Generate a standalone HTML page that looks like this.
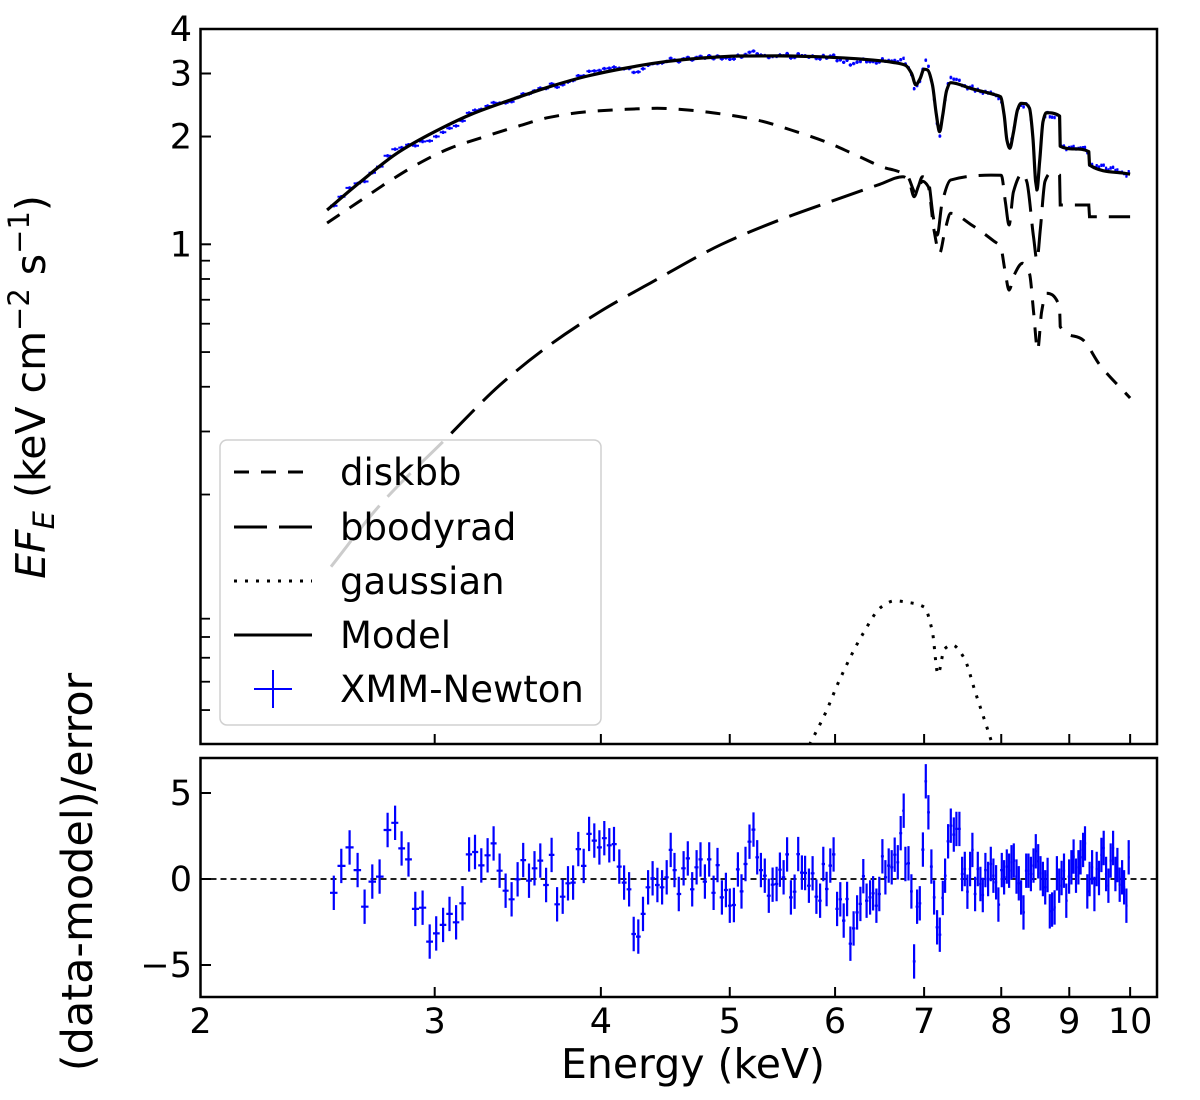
<!DOCTYPE html>
<html><head><meta charset="utf-8"><style>
html,body{margin:0;padding:0;background:#fff;}
svg{display:block;font-family:"DejaVu Sans","Liberation Sans",sans-serif;}
</style></head><body>
<svg id="chart" width="1200" height="1100" viewBox="0 0 1200 1100" xmlns="http://www.w3.org/2000/svg">
<defs>
<clipPath id="clipTop"><rect x="200.5" y="29" width="956.5" height="715"/></clipPath>
<clipPath id="clipBot"><rect x="200.5" y="758" width="956.5" height="239"/></clipPath>
</defs>
<g id="topLayer" clip-path="url(#clipTop)"></g>
<g id="botLayer" clip-path="url(#clipBot)"></g>
<g id="axesLayer"></g>
<text transform="translate(45,387) rotate(-90)" text-anchor="middle" font-size="41"><tspan font-style="italic">EF</tspan><tspan font-style="italic" font-size="29" dy="9">E</tspan><tspan dy="-9"> (keV cm</tspan><tspan font-size="29" dy="-16">−2</tspan><tspan dy="16"> s</tspan><tspan font-size="29" dy="-16">−1</tspan><tspan dy="16">)</tspan></text>
<text transform="translate(92,872) rotate(-90)" text-anchor="middle" font-size="43">(data-model)/error</text>
<text x="693" y="1078" text-anchor="middle" font-size="41">Energy (keV)</text>
</svg>
<script>
// ---- data ----
const modelE=[2.49,2.63,2.81,3.0,3.2,3.42,3.66,3.91,4.18,4.47,4.77,5.1,5.45,5.82,6.22,6.48,6.64,6.78,6.85,6.9,6.95,7.0,7.04,7.1,7.15,7.19,7.23,7.28,7.33,7.6,7.9,7.99,8.04,8.08,8.12,8.17,8.23,8.28,8.34,8.40,8.45,8.49,8.51,8.55,8.6,8.65,8.85,8.86,9.31,9.32,10.0];
const modelV=[1.247,1.48,1.796,2.063,2.312,2.529,2.755,2.952,3.108,3.236,3.314,3.357,3.36,3.342,3.299,3.258,3.22,3.16,3.0,2.79,2.9,3.083,3.07,2.8,2.3,2.063,2.3,2.7,2.828,2.72,2.62,2.584,2.3,1.95,1.854,2.05,2.38,2.476,2.47,2.403,2.0,1.5,1.418,1.7,2.2,2.332,2.283,1.88,1.814,1.665,1.57];
const diskE=[2.49,2.62,2.77,2.92,3.08,3.27,3.47,3.66,3.91,4.18,4.41,4.65,4.93,5.24,5.56,5.9,6.22,6.56,6.64,6.8,6.9,6.98,7.05,7.12,7.19,7.26,7.33,7.6,7.9,7.99,8.05,8.11,8.18,8.3,8.40,8.46,8.52,8.58,8.65,8.85,8.86,9.22,9.49,10.0];
const diskV=[1.147,1.302,1.496,1.684,1.854,1.998,2.14,2.263,2.346,2.383,2.398,2.372,2.312,2.225,2.086,1.935,1.776,1.63,1.613,1.55,1.39,1.5,1.45,1.1,0.944,1.1,1.221,1.132,1.02,0.985,0.85,0.745,0.82,0.885,0.83,0.65,0.507,0.65,0.73,0.669,0.589,0.54,0.46,0.372];
const bbE=[2.507,2.729,3.052,3.36,3.66,3.99,4.36,4.93,5.45,6.02,6.48,6.75,6.82,6.88,6.93,6.98,7.05,7.11,7.16,7.22,7.33,7.86,8.0,8.06,8.11,8.17,8.30,8.36,8.46,8.51,8.56,8.63,8.71,8.85,8.86,9.31,9.32,10];
const bbV=[0.1257,0.187,0.284,0.405,0.523,0.647,0.78,1.0,1.169,1.336,1.47,1.545,1.5,1.358,1.45,1.545,1.5,1.2,1.061,1.3,1.512,1.561,1.56,1.3,1.132,1.4,1.579,1.5,1.05,0.904,1.1,1.5,1.579,1.561,1.288,1.288,1.194,1.194];
const gaussE=[5.74,5.9,6.05,6.3,6.5,6.65,6.8,7.0,7.1,7.17,7.25,7.35,7.5,7.65,7.8,7.88];
const gaussV=[0.040,0.049,0.061,0.082,0.097,0.101,0.100,0.097,0.083,0.063,0.074,0.076,0.070,0.056,0.045,0.040];
const dataE=[2.519,2.552,2.589,2.625,2.657,2.693,2.727,2.765,2.801,2.833,2.867,2.901,2.938,2.974,3.008,3.044,3.078,3.113,3.148,3.184,3.217,3.252,3.288,3.322,3.357,3.392,3.427,3.463,3.497,3.532,3.566,3.602,3.638,3.673,3.708,3.744,3.779,3.812,3.847,3.883,3.919,3.955,3.990,4.024,4.059,4.092,4.130,4.164,4.200,4.234,4.268,4.303,4.341,4.375,4.411,4.447,4.483,4.514,4.544,4.578,4.616,4.650,4.685,4.721,4.753,4.789,4.825,4.862,4.895,4.932,4.967,5.000,5.036,5.071,5.103,5.138,5.174,5.210,5.243,5.277,5.313,5.350,5.385,5.422,5.453,5.488,5.522,5.558,5.594,5.629,5.665,5.697,5.734,5.771,5.809,5.846,5.879,5.913,5.951,5.985,6.021,6.055,6.090,6.126,6.161,6.196,6.233,6.269,6.301,6.337,6.375,6.408,6.445,6.478,6.512,6.546,6.584,6.618,6.653,6.688,6.722,6.757,6.777,6.813,6.848,6.880,6.916,6.948,6.985,7.021,7.052,7.089,7.122,7.159,7.193,7.230,7.259,7.297,7.331,7.369,7.403,7.441,7.476,7.511,7.545,7.580,7.610,7.646,7.682,7.717,7.749,7.784,7.820,7.857,7.892,7.929,7.961,8.008,8.040,8.078,8.110,8.144,8.176,8.214,8.247,8.280,8.315,8.353,8.387,8.421,8.460,8.494,8.528,8.563,8.598,8.632,8.668,8.702,8.737,8.774,8.810,8.845,8.882,8.918,8.954,8.998,9.033,9.068,9.106,9.143,9.179,9.218,9.249,9.286,9.323,9.363,9.400,9.437,9.476,9.514,9.552,9.592,9.630,9.669,9.709,9.749,9.782,9.821,9.862,9.896,9.936,9.976];
const dataR=[-0.80,0.76,1.84,0.52,-1.61,-0.15,0.14,2.85,3.27,1.78,1.14,-1.74,-1.67,-3.64,-3.16,-2.67,-2.03,-2.52,-1.41,1.43,1.57,0.79,1.38,2.07,0.48,-0.68,-1.18,-0.02,1.10,-0.10,0.62,1.07,-0.35,1.40,-1.47,-1.03,-0.25,-0.21,1.74,0.76,2.62,2.23,1.84,2.37,1.96,2.03,0.72,-0.21,-0.60,-3.20,-3.35,-2.03,-0.48,0.04,-0.35,-0.48,0.10,1.69,0.52,-0.87,0.62,1.20,-0.60,0.68,1.14,-0.15,1.14,-0.80,0.81,-1.07,-0.64,-1.55,-1.51,0.56,-0.72,0.87,2.17,2.87,1.26,0.52,0.19,-0.97,-0.33,-0.29,0.54,0.10,1.43,-1.07,-0.74,1.45,0.37,0.35,-0.39,0.33,-1.03,-1.26,0.87,-0.58,0.78,1.43,-1.74,-1.18,-2.42,-1.16,-3.76,-2.87,-1.94,-1.45,0.16,-1.26,-1.07,-0.83,-1.55,-0.87,1.32,0.10,0.78,0.68,1.41,0.97,2.66,3.97,0.87,0.91,-0.72,-4.79,-1.61,-1.41,1.71,5.68,3.88,0.72,-1.07,-2.81,-3.24,-1.10,0.19,2.19,3.10,2.58,2.91,2.91,0.29,0.58,-0.74,0.58,1.69,-0.87,0.58,-0.29,-0.93,0.52,0,0.87,0.19,-0.19,-1.49,0.52,0.10,0.72,0.48,0.97,1.07,0.14,-0.25,-1.07,-1.94,0.48,0.48,0.29,0.78,1.61,1.03,0.33,0,-0.48,0.23,-1.88,-1.78,-1.65,0.33,-0.39,0.06,0.48,-1.26,0.14,0.68,1.30,0.19,0.68,1.26,1.69,2.07,-0.72,0,0.68,-0.87,0.58,0.06,1.40,1.80,0.29,-0.39,1.07,1.80,0.29,0.81,-0.33,0.10,-0.48,-1.55,1.26];
const xTickVals=[2,3,4,5,6,7,8,9,10];
const xTickLabels=["2","3","4","5","6","7","8","9","10"];
const yMajorVals=[1,2,3,4];
const yMajorLabels=["1","2","3","4"];
const yMinorVals=[0.9,0.8,0.7,0.6,0.5,0.4,0.3,0.2,0.09,0.08,0.07,0.06,0.05];
const rTickVals=[5,0,-5];
const rTickLabels=["5","0","−5"];

// ---- scales ----
const L2=Math.log10(2);
function xS(e){return 200.5+1330*(Math.log10(e)-L2);}
function yT(v){return 244.3-358*Math.log10(v);}
function yB(r){return 879-17.2*r;}
const NS="http://www.w3.org/2000/svg";
function mk(tag,attrs,parent){const el=document.createElementNS(NS,tag);for(const k in attrs)el.setAttribute(k,attrs[k]);parent.appendChild(el);return el;}
function interpLog(E,Es,Vs){
  if(E<=Es[0])return Vs[0];
  for(let i=1;i<Es.length;i++){if(E<=Es[i]){const a=Math.log(Es[i-1]),b=Math.log(Es[i]);const t=(Math.log(E)-a)/(b-a);return Math.exp(Math.log(Vs[i-1])+t*(Math.log(Vs[i])-Math.log(Vs[i-1])));}}
  return Vs[Vs.length-1];
}
// monotone cubic (Fritsch-Carlson) in pixel space
function pathFrom(Es,Vs){
  const X=Es.map(xS),Y=Vs.map(yT),n=X.length;
  const d=[],m=new Array(n);
  for(let i=0;i<n-1;i++)d.push((Y[i+1]-Y[i])/Math.max(X[i+1]-X[i],1e-6));
  m[0]=d[0];m[n-1]=d[n-2];
  for(let i=1;i<n-1;i++){
    if(d[i-1]*d[i]<=0)m[i]=0;
    else{const h0=X[i]-X[i-1],h1=X[i+1]-X[i];const w1=2*h1+h0,w2=h1+2*h0;m[i]=(w1+w2)/(w1/d[i-1]+w2/d[i]);}
  }
  let s="M"+X[0].toFixed(1)+","+Y[0].toFixed(1);
  for(let i=0;i<n-1;i++){
    const h=X[i+1]-X[i];
    if(h<2){s+="L"+X[i+1].toFixed(1)+","+Y[i+1].toFixed(1);continue;}
    s+="C"+(X[i]+h/3).toFixed(1)+","+(Y[i]+m[i]*h/3).toFixed(1)+" "+(X[i+1]-h/3).toFixed(1)+","+(Y[i+1]-m[i+1]*h/3).toFixed(1)+" "+X[i+1].toFixed(1)+","+Y[i+1].toFixed(1);
  }
  return s;
}

const topL=document.getElementById('topLayer');
const botL=document.getElementById('botLayer');
const axL=document.getElementById('axesLayer');

let p=mk('path',{d:pathFrom(bbE,bbV),fill:'none',stroke:'#000','stroke-width':3,'stroke-dasharray':'33,12'},topL);


p=mk('path',{d:pathFrom(diskE,diskV),fill:'none',stroke:'#000','stroke-width':3,'stroke-dasharray':'15,12'},topL);


p=mk('path',{d:pathFrom(gaussE,gaussV),fill:'none',stroke:'#000','stroke-width':3,'stroke-dasharray':'3,8'},topL);


const dg=mk('g',{stroke:'#0000ff','stroke-width':2},topL);


for(let i=0;i<dataE.length;i++){
  const e=dataE[i];
  const prev=i>0?dataE[i-1]:e-(dataE[1]-dataE[0]);
  const next=i<dataE.length-1?dataE[i+1]:e+(e-dataE[i-1]);
  const m=interpLog(e,modelE,modelV);
  const v=m*(1+dataR[i]*0.011);
  const x=xS(e),y=yT(v);
  const x0=xS((prev+e)/2),x1=xS((e+next)/2);
  const y0=yT(v*1.011),y1=yT(v/1.011);
  const g=mk('path',{d:`M${x0.toFixed(1)},${y.toFixed(1)}H${x1.toFixed(1)}M${x.toFixed(1)},${y0.toFixed(1)}V${y1.toFixed(1)}`},dg);
  
  
}
p=mk('path',{d:pathFrom(modelE,modelV),fill:'none',stroke:'#000','stroke-width':3.2,'stroke-linejoin':'round'},topL);



p=mk('line',{x1:200.5,x2:1157,y1:yB(0),y2:yB(0),stroke:'#000','stroke-width':1.8,'stroke-dasharray':'6,4'},botL);


const rg=mk('g',{stroke:'#0000ff','stroke-width':2.2},botL);


for(let i=0;i<dataE.length;i++){
  const e=dataE[i];
  const prev=i>0?dataE[i-1]:e-(dataE[1]-dataE[0]);
  const next=i<dataE.length-1?dataE[i+1]:e+(e-dataE[i-1]);
  const x=xS(e),y=yB(dataR[i]);
  const x0=xS((prev+e)/2),x1=xS((e+next)/2);
  const g=mk('path',{d:`M${x0.toFixed(1)},${y.toFixed(1)}H${x1.toFixed(1)}M${x.toFixed(1)},${yB(dataR[i]+1).toFixed(1)}V${yB(dataR[i]-1).toFixed(1)}`},rg);
  
  
}

const lg=mk('g',{},document.getElementById('chart'));


mk('rect',{x:220,y:440,width:381,height:285,rx:7,fill:'rgba(255,255,255,0.8)',stroke:'#d0d0d0','stroke-width':1.5},lg);
const legNames=['diskbb','bbodyrad','gaussian','Model','XMM-Newton'];
const legDash=['15,12','33,12','3,8','none','none'];
const legY=[472,527,581,635,689];
for(let i=0;i<5;i++){
  const e=mk('g',{},lg);
  
  
  if(i<4){mk('line',{x1:234,x2:312,y1:legY[i],y2:legY[i],stroke:'#000','stroke-width':3,'stroke-dasharray':legDash[i]},e);}
  else{mk('path',{d:`M254,${legY[i]}H292M273,${legY[i]-19}V${legY[i]+19}`,stroke:'#0000ff','stroke-width':2},e);}
  const t=mk('text',{x:340,y:legY[i]+13,'font-size':37},e);
  t.textContent=legNames[i];
}

p=mk('rect',{x:200.5,y:29,width:956.5,height:715,fill:'none',stroke:'#000','stroke-width':2.5},axL);


p=mk('rect',{x:200.5,y:758,width:956.5,height:239,fill:'none',stroke:'#000','stroke-width':2.5},axL);


for(let i=0;i<xTickVals.length;i++){
  const x=xS(xTickVals[i]);
  if(i>0){
    mk('line',{x1:x,x2:x,y1:744,y2:734,stroke:'#000','stroke-width':2},axL);
    mk('line',{x1:x,x2:x,y1:997,y2:987,stroke:'#000','stroke-width':2},axL);
  }
  const t=mk('text',{x:x,y:1033,'text-anchor':'middle','font-size':35},axL);
  
  
  t.textContent=xTickLabels[i];
}
for(let i=0;i<yMajorVals.length;i++){
  const y=yT(yMajorVals[i]);
  if(yMajorVals[i]<4)mk('line',{x1:200.5,x2:211,y1:y,y2:y,stroke:'#000','stroke-width':2},axL);
  const t=mk('text',{x:192,y:y+12,'text-anchor':'end','font-size':35},axL);
  
  
  t.textContent=yMajorLabels[i];
}
for(const v of yMinorVals){const y=yT(v);mk('line',{x1:200.5,x2:210,y1:y,y2:y,stroke:'#000','stroke-width':1.8},axL);}
for(let i=0;i<rTickVals.length;i++){
  const y=yB(rTickVals[i]);
  mk('line',{x1:200.5,x2:211,y1:y,y2:y,stroke:'#000','stroke-width':2},axL);
  const t=mk('text',{x:192,y:y+12,'text-anchor':'end','font-size':35},axL);
  
  
  t.textContent=rTickLabels[i];
}
</script>
</body></html>
